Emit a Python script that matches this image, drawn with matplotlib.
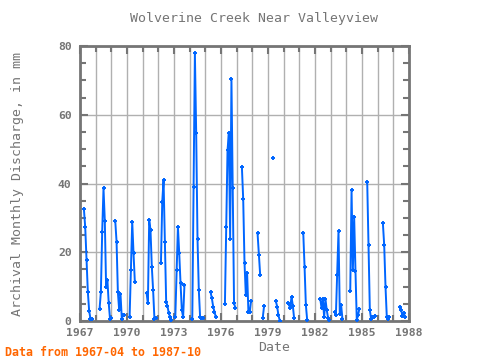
import matplotlib
matplotlib.use("Agg")
import matplotlib.pyplot as plt
import numpy as np

# first month of each open-water run, and the monthly values of that run (mm)
run_start = ["1967-04", "1968-04", "1969-04", "1970-03", "1971-04", "1972-03",
             "1973-02", "1974-03", "1975-05", "1976-04", "1977-05", "1978-05",
             "1979-05", "1980-04", "1981-04", "1982-05", "1983-04", "1984-04",
             "1985-05", "1986-05", "1987-06"]
run_values = [
    [32.5, 27.3, 17.7, 8.5, 3.0, 0.7, 0.7],
    [3.6, 8.5, 26.0, 38.6, 29.2, 9.8, 11.9, 5.2, 0.6, 0.8],
    [29.1, 23.1, 8.5, 3.2, 8.0, 0.7, 1.7, 1.7],
    [1.2, 14.8, 28.9, 19.7, 11.4],
    [8.2, 5.1, 29.4, 26.5, 15.8, 9.0, 0.7, 1.0],
    [16.8, 34.7, 41.0, 23.1, 5.6, 4.4, 2.2, 1.3, 0.4],
    [1.1, 14.8, 27.4, 19.7, 11.0, 3.2, 1.1, 10.5],
    [0.5, 39.0, 77.9, 54.6, 24.0, 9.0, 1.1, 0.8, 0.9],
    [8.4, 6.6, 4.2, 2.7, 1.2],
    [4.9, 27.4, 49.7, 54.6, 24.0, 70.3, 38.6, 5.1, 3.9],
    [44.8, 35.5, 17.0, 7.6, 14.0, 2.6, 2.6, 5.8],
    [25.5, 19.2, 13.4, np.nan, 1.0, 4.4],
    [47.3, np.nan, 5.8, 4.2, 1.7, 0.1],
    [5.3, 4.9, 3.7, 7.1, 4.5, 0.8],
    [25.7, 15.8, 4.7, 0.3],
    [6.5, 3.8, 6.4, 1.2, 6.4, 3.2, 0.9, 0.4],
    [2.6, 1.7, 13.5, 26.2, 2.0, 4.7, 0.7],
    [8.8, 38.1, 14.8, 30.2, 14.5, 0.3, 1.7, 3.6],
    [40.3, 22.1, 3.2, 0.5, 1.1, 1.3, 1.4],
    [28.4, 22.1, 10.0, 1.1, 0.5, 1.1],
    [4.2, 3.2, 1.5, 2.2, 1.3],
]

xs, ys = [], []
for start, vals in zip(run_start, run_values):
    yr, mo = int(start[:4]), int(start[5:])
    for k, v in enumerate(vals):
        xs.append(yr + (mo - 1 + k) / 12.0)
        ys.append(v)
    xs.append(np.nan)   # break between seasons
    ys.append(np.nan)

grey = "#757575"
plt.rcParams["font.family"] = "DejaVu Sans Mono"
plt.rcParams["font.weight"] = "bold"

fig = plt.figure(figsize=(4.8, 3.6), dpi=100)
ax = fig.add_axes([80/480, 1 - 321/360, 329/480, 275/360])

ax.plot(xs, ys, color="#0066ff", lw=1.4, marker="+", ms=3, mew=1.4, zorder=3)

ax.set_xlim(1967, 1988)
ax.set_ylim(0, 80)
ax.set_xticks(np.arange(1967, 1989, 3))
ax.set_xticks(np.arange(1967, 1989, 1), minor=True)
ax.set_yticks(np.arange(0, 81, 20))
ax.set_yticks(np.arange(0, 81, 5), minor=True)
ax.grid(which="major", color="#b0b0b0", lw=1)
ax.grid(which="minor", axis="x", color="#b0b0b0", lw=1)
ax.tick_params(which="both", direction="in", top=True, right=True,
               color=grey, labelcolor=grey, labelsize=8.2)
ax.tick_params(axis="x", pad=5)
ax.tick_params(axis="y", pad=6)
ax.tick_params(which="major", length=6, width=1.5)
ax.tick_params(which="minor", length=4, width=1.5)
for s in ax.spines.values():
    s.set_color(grey)
    s.set_linewidth(2)

ax.text((254 - 80) / 329, 1 + 28 / 275, "Wolverine Creek Near Valleyview",
        transform=ax.transAxes, ha="center", va="center", color=grey,
        fontsize=9.5, fontweight="normal")
ax.set_xlabel("Date", color=grey, fontsize=9.5)
ax.xaxis.set_label_coords((274 - 80) / 329, -20 / 275)
ax.set_ylabel("Archival Monthly Discharge, in mm", color=grey, fontsize=9.5)
ax.yaxis.set_label_coords((24 - 80) / 329, 0.5)
fig.text(5/480, 1 - 352/360, "Data from 1967-04 to 1987-10", color="#ff6600",
         fontsize=8.4, va="center")

fig.savefig("out.png", dpi=100)
